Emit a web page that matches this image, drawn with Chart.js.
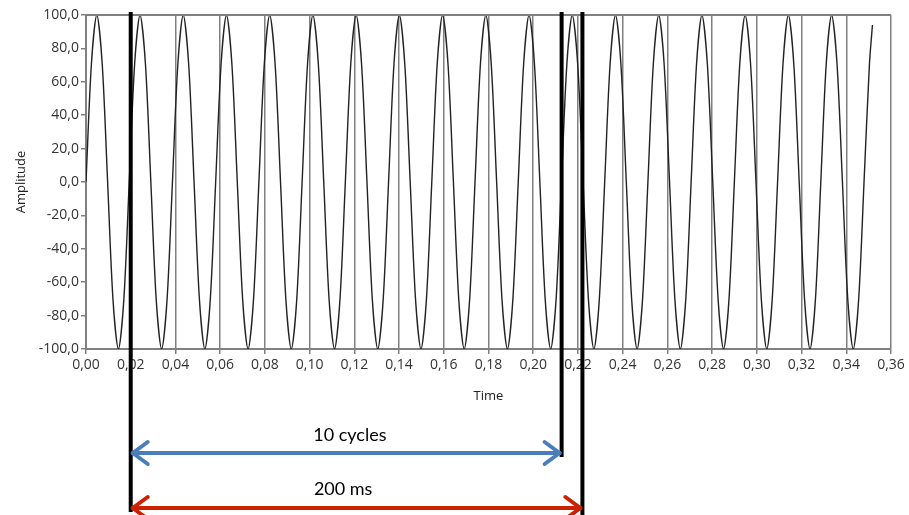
<!DOCTYPE html>
<html>
<head>
<meta charset="utf-8">
<script src="https://cdn.jsdelivr.net/npm/chart.js@4.4.1/dist/chart.umd.min.js"></script>
<style>
  html, body { margin: 0; padding: 0; background: #fff; }
</style>
</head>
<body>
<canvas id="sineChart" width="909" height="515"></canvas>
<script>
// sample times in ms (about 8 samples per cycle)
const timeMs = [
  0, 2.42, 4.83, 7.25, 9.67, 12.08, 14.5, 16.91,
  19.33, 21.75, 24.16, 26.58, 29.0, 31.41, 33.83, 36.24,
  38.66, 41.08, 43.49, 45.91, 48.33, 50.74, 53.16, 55.57,
  57.99, 60.41, 62.82, 65.24, 67.66, 70.07, 72.49, 74.9,
  77.32, 79.74, 82.15, 84.57, 86.99, 89.4, 91.82, 94.23,
  96.65, 99.07, 101.48, 103.9, 106.32, 108.73, 111.15, 113.56,
  115.98, 118.4, 120.81, 123.23, 125.65, 128.06, 130.48, 132.89,
  135.31, 137.73, 140.14, 142.56, 144.98, 147.39, 149.81, 152.22,
  154.64, 157.06, 159.47, 161.89, 164.31, 166.72, 169.14, 171.55,
  173.97, 176.39, 178.8, 181.22, 183.64, 186.05, 188.47, 190.88,
  193.3, 195.72, 198.13, 200.55, 202.97, 205.38, 207.8, 210.21,
  212.63, 215.05, 217.46, 219.88, 222.3, 224.71, 227.13, 229.54,
  231.96, 234.38, 236.79, 239.21, 241.63, 244.04, 246.46, 248.87,
  251.29, 253.71, 256.12, 258.54, 260.96, 263.37, 265.79, 268.2,
  270.62, 273.04, 275.45, 277.87, 280.29, 282.7, 285.12, 287.53,
  289.95, 292.37, 294.78, 297.2, 299.62, 302.03, 304.45, 306.86,
  309.28, 311.7, 314.11, 316.53, 318.95, 321.36, 323.78, 326.19,
  328.61, 331.03, 333.44, 335.86, 338.28, 340.69, 343.11, 345.52,
  347.94, 350.36, 351.7
];

const amplitude = [
  0, 70.7, 100, 70.7, 0, -70.7, -100, -70.7,
  0, 70.7, 100, 70.7, 0, -70.7, -100, -70.7,
  0, 70.7, 100, 70.7, 0, -70.7, -100, -70.7,
  0, 70.7, 100, 70.7, 0, -70.7, -100, -70.7,
  0, 70.7, 100, 70.7, 0, -70.7, -100, -70.7,
  0, 70.7, 100, 70.7, 0, -70.7, -100, -70.7,
  0, 70.7, 100, 70.7, 0, -70.7, -100, -70.7,
  0, 70.7, 100, 70.7, 0, -70.7, -100, -70.7,
  0, 70.7, 100, 70.7, 0, -70.7, -100, -70.7,
  0, 70.7, 100, 70.7, 0, -70.7, -100, -70.7,
  0, 70.7, 100, 70.7, 0, -70.7, -100, -70.7,
  0, 70.7, 100, 70.7, 0, -70.7, -100, -70.7,
  0, 70.7, 100, 70.7, 0, -70.7, -100, -70.7,
  0, 70.7, 100, 70.7, 0, -70.7, -100, -70.7,
  0, 70.7, 100, 70.7, 0, -70.7, -100, -70.7,
  0, 70.7, 100, 70.7, 0, -70.7, -100, -70.7,
  0, 70.7, 100, 70.7, 0, -70.7, -100, -70.7,
  0, 70.7, 100, 70.7, 0, -70.7, -100, -70.7,
  0, 70.7, 94
];

// axes
const xTickStepMs = 20;
const xMaxMs = 360;
const yTickStep = 20;

// markers under the plot (ms)
const cycleStartMs = 20;
const tenCyclesEndMs = 212.7;
const spanEndMs = 222;
const cyclesLabel = "10 cycles";
const spanLabel = "200 ms";
const cyclesLabelMs = 118;
const spanLabelMs = 115;

const frameColor = "#808080";

function drawArrow(ctx, x1, x2, y, color) {
  ctx.strokeStyle = color;
  ctx.lineWidth = 4;
  ctx.lineCap = "round";
  ctx.lineJoin = "round";
  ctx.beginPath();
  ctx.moveTo(x1 + 2, y);
  ctx.lineTo(x2 - 2, y);
  ctx.stroke();
  ctx.beginPath();
  ctx.moveTo(x1 + 17, y - 11);
  ctx.lineTo(x1 + 2, y);
  ctx.lineTo(x1 + 17, y + 11);
  ctx.stroke();
  ctx.beginPath();
  ctx.moveTo(x2 - 17, y - 11);
  ctx.lineTo(x2 - 2, y);
  ctx.lineTo(x2 - 17, y + 11);
  ctx.stroke();
}

const markerPlugin = {
  id: "markers",
  afterDraw(chart) {
    const { ctx, chartArea } = chart;
    const xs = chart.scales.x;
    const top = chartArea.top;
    const bottom = chartArea.bottom;

    ctx.save();
    // top frame line
    ctx.strokeStyle = frameColor;
    ctx.lineWidth = 2;
    ctx.beginPath();
    ctx.moveTo(chartArea.left, top);
    ctx.lineTo(chartArea.right, top);
    ctx.stroke();

    const xStart = xs.getPixelForValue(cycleStartMs);
    const xCycles = xs.getPixelForValue(tenCyclesEndMs);
    const xSpan = xs.getPixelForValue(spanEndMs);

    // thick black markers
    ctx.strokeStyle = "#000";
    ctx.lineWidth = 4;
    ctx.lineCap = "butt";
    [[xStart, bottom + 163], [xCycles, bottom + 108], [xSpan, chart.height]].forEach(([x, yEnd]) => {
      ctx.beginPath();
      ctx.moveTo(x, top - 3);
      ctx.lineTo(x, yEnd);
      ctx.stroke();
    });

    drawArrow(ctx, xStart, xCycles, bottom + 104, "#4a7ebb");
    drawArrow(ctx, xStart, xSpan, bottom + 159, "#cc2200");

    ctx.fillStyle = "#000";
    ctx.font = "18px Lato, 'Open Sans', sans-serif";
    ctx.textAlign = "center";
    ctx.textBaseline = "middle";
    ctx.fillText(cyclesLabel, xs.getPixelForValue(cyclesLabelMs), bottom + 86);
    ctx.fillText(spanLabel, xs.getPixelForValue(spanLabelMs), bottom + 140);
    ctx.restore();
  }
};

Chart.defaults.font.family = "'Open Sans', sans-serif";

const chart = new Chart(document.getElementById("sineChart"), {
  type: "line",
  data: {
    labels: timeMs,
    datasets: [{
      data: amplitude,
      borderColor: "#222",
      borderWidth: 1.4,
      pointRadius: 0,
      tension: 0.3,
      fill: false
    }]
  },
  options: {
    responsive: false,
    animation: false,
    layout: { padding: { left: 0, right: 18, top: 15, bottom: 0 } },
    plugins: {
      legend: { display: false },
      tooltip: { enabled: false }
    },
    scales: {
      x: {
        type: "linear",
        min: 0,
        max: xMaxMs,
        ticks: {
          stepSize: xTickStepMs,
          autoSkip: false,
          maxRotation: 0,
          padding: 3,
          color: "#333",
          font: { size: 14 },
          callback: (v) => (v / 1000).toFixed(2).replace(".", ",")
        },
        grid: { color: frameColor, lineWidth: 1.5, tickLength: 5 },
        border: { color: frameColor, width: 2 },
        title: {
          display: true,
          text: "Time",
          color: "#222",
          font: { size: 13 },
          padding: { top: 0, bottom: 111 }
        },
        afterFit: (s) => { s.height = 166; }
      },
      y: {
        min: -100,
        max: 100,
        ticks: {
          stepSize: yTickStep,
          padding: 2,
          color: "#333",
          font: { size: 14 },
          callback: (v) => v.toFixed(1).replace(".", ",")
        },
        grid: { drawOnChartArea: false, color: frameColor, lineWidth: 1.5, tickLength: 5 },
        border: { color: frameColor, width: 2 },
        title: {
          display: true,
          text: "Amplitude",
          color: "#222",
          font: { size: 13 },
          padding: { top: 13, bottom: 0 }
        },
        afterFit: (s) => { s.width = 86; }
      }
    }
  },
  plugins: [markerPlugin]
});
</script>
</body>
</html>
